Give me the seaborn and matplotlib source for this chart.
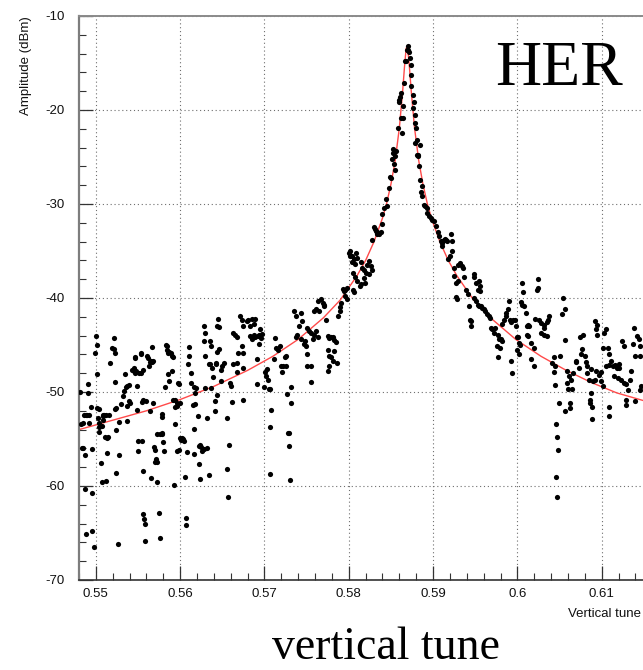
import matplotlib
matplotlib.use("Agg")
import matplotlib.pyplot as plt
import pandas as pd
import seaborn as sns
from matplotlib.ticker import MultipleLocator, FixedLocator, FixedFormatter

# ---- measured points (vertical tune, amplitude dBm), grouped by region ----
left_upper = [
    (0.5481, -50.0), (0.5491, -49.2), (0.5491, -50.1), (0.5500, -44.0), (0.5501, -45.0),
    (0.5499, -45.8), (0.5501, -48.1), (0.5519, -45.3), (0.5521, -45.4), (0.5522, -44.3),
    (0.5523, -45.9), (0.5517, -46.9), (0.5523, -48.9), (0.5532, -50.4), (0.5533, -49.9),
    (0.5536, -49.5), (0.5537, -49.4), (0.5539, -49.3), (0.5535, -48.1), (0.5543, -47.7),
    (0.5545, -47.8), (0.5547, -48.0), (0.5548, -47.8), (0.5545, -47.5), (0.5546, -46.3),
    (0.5547, -46.4), (0.5549, -49.4), (0.5553, -45.8), (0.5554, -46.0), (0.5556, -47.7),
    (0.5554, -48.0), (0.5551, -48.0), (0.5561, -46.2), (0.5562, -46.4), (0.5563, -47.2),
    (0.5564, -46.8), (0.5565, -46.7), (0.5566, -46.8), (0.5568, -46.7), (0.5567, -45.2),
    (0.5582, -49.5), (0.5583, -45.0), (0.5584, -45.1), (0.5584, -45.5), (0.5586, -45.9),
    (0.5587, -45.7), (0.5589, -45.8), (0.5590, -46.2), (0.5591, -46.3), (0.5590, -47.8),
    (0.5586, -48.1), (0.5587, -48.8), (0.5592, -50.8), (0.5598, -49.0), (0.5599, -49.2),
    (0.5611, -45.2), (0.5611, -46.2), (0.5609, -47.0), (0.5613, -48.0), (0.5613, -49.0),
    (0.5616, -49.5), (0.5618, -50.1), (0.5619, -49.6), (0.5628, -43.0), (0.5630, -43.7),
    (0.5628, -44.6), (0.5630, -46.2), (0.5635, -44.6), (0.5636, -45.1), (0.5635, -47.0),
    (0.5638, -47.5), (0.5639, -48.4), (0.5634, -47.0), (0.5645, -42.2), (0.5644, -43.0),
    (0.5646, -43.1), (0.5642, -46.9), (0.5643, -47.0), (0.5646, -45.4), (0.5644, -45.7),
    (0.5637, -49.6), (0.5630, -49.6), (0.5644, -50.3),
]
left_lower = [
    (0.5483, -56.0), (0.5485, -56.0), (0.5487, -56.7), (0.5482, -53.4), (0.5485, -53.3),
    (0.5486, -52.5), (0.5488, -52.5), (0.5490, -52.5), (0.5492, -52.4), (0.5494, -51.6),
    (0.5492, -53.3), (0.5495, -56.1), (0.5487, -60.3), (0.5496, -60.7), (0.5488, -65.1),
    (0.5496, -64.8), (0.5498, -66.5), (0.5501, -51.7), (0.5504, -51.8), (0.5503, -52.8),
    (0.5504, -53.3), (0.5504, -53.7), (0.5504, -54.3), (0.5508, -52.4), (0.5509, -52.6),
    (0.5510, -52.5), (0.5508, -53.0), (0.5507, -53.6), (0.5512, -52.4), (0.5516, -52.4),
    (0.5511, -54.8), (0.5514, -54.8), (0.5513, -54.9), (0.5513, -56.5), (0.5506, -57.6),
    (0.5507, -59.6), (0.5512, -59.5), (0.5523, -51.8), (0.5524, -51.7), (0.5527, -53.2),
    (0.5524, -54.0), (0.5527, -56.7), (0.5524, -58.6), (0.5530, -51.3), (0.5526, -66.2),
    (0.5537, -51.5), (0.5539, -51.0), (0.5540, -51.2), (0.5537, -53.1), (0.5549, -51.9),
    (0.5550, -55.2), (0.5555, -55.2), (0.5550, -56.3), (0.5556, -58.4), (0.5555, -51.1),
    (0.5556, -50.9), (0.5560, -51.0), (0.5564, -52.0), (0.5556, -63.0), (0.5557, -63.5),
    (0.5558, -64.0), (0.5558, -65.9), (0.5565, -59.2), (0.5569, -55.9), (0.5570, -56.2),
    (0.5571, -57.1), (0.5572, -57.4), (0.5570, -57.5), (0.5573, -54.5), (0.5576, -54.5),
    (0.5578, -54.5), (0.5580, -55.3), (0.5579, -54.4), (0.5581, -56.3), (0.5572, -59.6),
    (0.5575, -62.9), (0.5576, -65.5), (0.5578, -52.3), (0.5579, -52.7), (0.5568, -51.2),
    (0.5594, -53.4), (0.5594, -50.8), (0.5596, -51.2), (0.5596, -51.5), (0.5594, -51.6),
    (0.5593, -59.9), (0.5596, -56.3), (0.5599, -56.2), (0.5600, -54.9), (0.5601, -55.1),
    (0.5603, -55.0), (0.5605, -55.2), (0.5602, -54.9), (0.5600, -51.2), (0.5606, -59.0),
    (0.5607, -63.4), (0.5607, -64.2), (0.5608, -56.4), (0.5617, -56.6), (0.5615, -51.4),
    (0.5618, -51.3), (0.5616, -53.9), (0.5621, -52.6), (0.5622, -55.7), (0.5624, -55.6),
    (0.5625, -55.8), (0.5626, -56.3), (0.5628, -56.1), (0.5622, -57.7), (0.5623, -59.3),
    (0.5632, -52.8), (0.5632, -56.0), (0.5634, -58.8), (0.5641, -51.0), (0.5641, -52.0),
]
middle = [
    (0.5830, -32.5), (0.5831, -32.7), (0.5832, -32.9), (0.5833, -33.2), (0.5834, -33.0),
    (0.5836, -33.2), (0.5838, -33.0), (0.5840, -32.1), (0.5828, -33.8), (0.5800, -35.2),
    (0.5802, -35.0), (0.5802, -35.5), (0.5804, -35.5), (0.5806, -35.9), (0.5807, -36.4),
    (0.5810, -35.7), (0.5808, -35.2), (0.5814, -36.2), (0.5816, -36.8), (0.5818, -37.0),
    (0.5820, -37.3), (0.5822, -36.5), (0.5824, -36.1), (0.5826, -36.6), (0.5827, -37.0),
    (0.5824, -37.5), (0.5818, -37.9), (0.5819, -38.4), (0.5814, -38.5), (0.5810, -38.2),
    (0.5813, -38.7), (0.5804, -36.2), (0.5805, -37.3), (0.5807, -37.8), (0.5798, -38.9),
    (0.5796, -39.1), (0.5794, -39.3), (0.5793, -39.0), (0.5795, -39.8), (0.5798, -40.1),
    (0.5791, -40.5), (0.5789, -41.0), (0.5787, -41.9), (0.5790, -41.4), (0.5805, -39.1),
    (0.5806, -39.4), (0.5767, -40.1), (0.5769, -40.5), (0.5771, -40.9), (0.5771, -40.7),
    (0.5773, -42.3), (0.5763, -40.3), (0.5761, -41.2), (0.5759, -41.4), (0.5765, -41.4),
    (0.5751, -43.2), (0.5753, -43.5), (0.5755, -43.7), (0.5759, -43.9), (0.5761, -43.5),
    (0.5763, -44.2), (0.5757, -44.4), (0.5749, -45.1), (0.5748, -44.6), (0.5735, -41.4),
    (0.5737, -41.9), (0.5743, -41.6), (0.5745, -42.4), (0.5741, -43.0), (0.5739, -43.9),
    (0.5737, -44.2), (0.5743, -44.4), (0.5747, -44.9), (0.5750, -46.0), (0.5751, -47.2),
    (0.5755, -47.2), (0.5775, -44.0), (0.5777, -44.3), (0.5779, -44.2), (0.5781, -44.1),
    (0.5783, -44.5), (0.5785, -44.7), (0.5775, -45.5), (0.5777, -46.2), (0.5779, -46.3),
    (0.5781, -46.7), (0.5777, -47.2), (0.5775, -47.8), (0.5783, -45.6), (0.5786, -46.9),
    (0.5755, -48.9), (0.5731, -49.5), (0.5727, -50.2), (0.5712, -44.3), (0.5714, -45.3),
    (0.5716, -45.5), (0.5718, -45.1), (0.5720, -47.2), (0.5722, -47.2), (0.5726, -47.2),
    (0.5721, -47.9), (0.5724, -46.3), (0.5725, -46.2), (0.5711, -46.5), (0.5703, -47.6),
    (0.5701, -47.9), (0.5702, -48.3), (0.5704, -48.7), (0.5705, -49.7), (0.5707, -49.7),
    (0.5695, -43.3), (0.5693, -43.9), (0.5692, -44.0), (0.5689, -44.2), (0.5687, -43.9),
    (0.5685, -44.4), (0.5683, -44.0), (0.5683, -43.0), (0.5681, -42.3), (0.5679, -42.4),
    (0.5689, -42.2), (0.5685, -42.2), (0.5688, -42.8), (0.5696, -44.3), (0.5694, -44.9),
    (0.5697, -43.8), (0.5691, -46.5), (0.5663, -43.7), (0.5665, -43.9), (0.5667, -44.2),
    (0.5669, -45.8), (0.5671, -41.9), (0.5673, -42.3), (0.5675, -43.0), (0.5673, -45.1),
    (0.5675, -45.8), (0.5667, -46.9), (0.5663, -47.0), (0.5667, -47.9), (0.5675, -47.4),
    (0.5659, -49.0), (0.5660, -49.4), (0.5675, -50.8), (0.5691, -49.2), (0.5699, -49.5),
    (0.5650, -47.2), (0.5652, -46.9), (0.5649, -47.7), (0.5648, -48.8),
]
middle_lower = [
    (0.5661, -51.1), (0.5655, -52.8), (0.5658, -55.6), (0.5656, -58.2), (0.5657, -61.2),
    (0.5708, -51.9), (0.5706, -53.7), (0.5707, -58.7), (0.5731, -51.2), (0.5728, -54.4),
    (0.5729, -54.4), (0.5729, -55.7), (0.5730, -59.4),
]
peak = [
    (0.5870, -13.2), (0.5869, -13.6), (0.5870, -13.6), (0.5872, -13.8), (0.5868, -14.8),
    (0.5867, -14.8), (0.5873, -14.5), (0.5874, -15.2), (0.5874, -16.3), (0.5874, -17.5),
    (0.5876, -18.4), (0.5866, -17.1), (0.5861, -18.6), (0.5860, -18.9), (0.5862, -18.2),
    (0.5859, -19.1), (0.5864, -19.6), (0.5862, -20.9), (0.5864, -20.9), (0.5858, -21.9),
    (0.5863, -22.4), (0.5877, -19.1), (0.5876, -19.8), (0.5878, -20.5), (0.5878, -21.4),
    (0.5880, -21.9), (0.5879, -23.5), (0.5881, -23.2), (0.5884, -23.7), (0.5882, -24.8),
    (0.5881, -24.8), (0.5882, -24.9), (0.5883, -26.0), (0.5885, -27.4), (0.5887, -28.1),
    (0.5886, -28.7), (0.5887, -29.2), (0.5889, -30.1), (0.5890, -30.2), (0.5893, -30.4),
    (0.5893, -31.0), (0.5895, -31.3), (0.5897, -31.5), (0.5899, -31.7), (0.5852, -24.1),
    (0.5853, -24.6), (0.5851, -25.2), (0.5855, -24.9), (0.5856, -24.4), (0.5854, -25.7),
    (0.5855, -26.4), (0.5849, -27.1), (0.5850, -27.2), (0.5848, -28.3), (0.5844, -29.5),
    (0.5845, -30.2), (0.5842, -30.4), (0.5840, -31.1),
]
right = [
    (0.5901, -31.8), (0.5904, -32.3), (0.5906, -33.0), (0.5907, -33.4), (0.5909, -33.9),
    (0.5910, -34.2), (0.5911, -34.5), (0.5913, -33.8), (0.5914, -33.7), (0.5915, -33.8),
    (0.5917, -33.9), (0.5921, -33.2), (0.5923, -33.9), (0.5923, -35.0), (0.5918, -35.8),
    (0.5920, -35.5), (0.5925, -36.8), (0.5929, -36.5), (0.5932, -36.3), (0.5934, -36.6),
    (0.5935, -36.8), (0.5925, -37.7), (0.5927, -38.4), (0.5929, -38.2), (0.5937, -37.8),
    (0.5927, -39.9), (0.5928, -40.1), (0.5939, -39.1), (0.5941, -39.6), (0.5948, -37.4),
    (0.5949, -37.8), (0.5951, -38.4), (0.5955, -38.2), (0.5956, -38.7), (0.5953, -39.1),
    (0.5956, -39.3), (0.5943, -40.9), (0.5944, -42.3), (0.5945, -43.0), (0.5945, -42.4),
    (0.5949, -40.0), (0.5951, -40.3), (0.5953, -40.7), (0.5955, -40.9), (0.5957, -40.9),
    (0.5958, -41.1), (0.5960, -41.2), (0.5962, -41.4), (0.5964, -41.7), (0.5966, -41.9),
    (0.5968, -42.1), (0.5969, -43.2), (0.5970, -43.3), (0.5972, -43.7), (0.5974, -43.2),
    (0.5977, -43.9), (0.5978, -44.4), (0.5980, -44.4), (0.5982, -44.6), (0.5976, -45.1),
    (0.5979, -45.3), (0.5977, -46.3), (0.5982, -42.8), (0.5984, -42.3), (0.5986, -41.9),
    (0.5987, -41.6), (0.5989, -41.2), (0.5990, -40.3), (0.5991, -42.3), (0.5993, -42.6),
    (0.5995, -42.3), (0.5998, -43.0), (0.5999, -44.1), (0.6001, -44.2), (0.6002, -44.8),
    (0.6003, -45.0), (0.6000, -45.5), (0.6002, -46.0), (0.5993, -46.7), (0.5994, -48.0),
    (0.5997, -42.3), (0.6006, -38.4), (0.6007, -39.4), (0.6004, -40.4), (0.6006, -40.7),
    (0.6008, -40.9), (0.6010, -41.6), (0.6011, -43.0), (0.6013, -42.9), (0.6014, -43.0),
    (0.6011, -43.9), (0.6013, -44.0), (0.6016, -44.8), (0.6020, -45.3), (0.6021, -42.2),
    (0.6024, -38.0), (0.6025, -38.9), (0.6023, -39.1), (0.6026, -42.3), (0.6028, -42.7),
    (0.6031, -43.2), (0.6032, -42.9), (0.6035, -42.6), (0.6036, -42.3), (0.6037, -41.9),
    (0.6032, -43.9), (0.6035, -44.0), (0.6028, -43.7), (0.6016, -46.5), (0.6020, -47.2),
    (0.6043, -46.3), (0.6041, -46.9), (0.6045, -47.2), (0.6043, -47.9), (0.6045, -49.3),
    (0.6051, -46.2), (0.6054, -40.0), (0.6056, -41.2), (0.6053, -41.7), (0.6056, -44.5),
    (0.6059, -47.8), (0.6061, -48.3), (0.6064, -48.7), (0.6066, -48.0), (0.6059, -49.0),
    (0.6060, -49.7), (0.6065, -49.7), (0.6070, -46.7), (0.6073, -47.4), (0.6075, -46.0),
    (0.6077, -45.4), (0.6078, -43.9), (0.6074, -44.2), (0.6069, -46.8), (0.6080, -46.2),
    (0.6081, -46.8), (0.6083, -47.2), (0.6082, -48.0), (0.6087, -47.6), (0.6085, -48.7),
    (0.6090, -48.8), (0.6087, -50.1), (0.6086, -50.8), (0.6092, -48.7), (0.6093, -47.8),
    (0.6093, -43.3), (0.6092, -42.4), (0.6095, -42.9), (0.6094, -43.9), (0.6097, -48.2),
    (0.6099, -47.9), (0.6102, -45.3), (0.6103, -43.7), (0.6105, -43.3), (0.6107, -45.3),
    (0.6109, -46.0), (0.6111, -46.7), (0.6114, -47.2), (0.6116, -47.1), (0.6118, -47.4),
    (0.6120, -47.0), (0.6121, -47.4), (0.6123, -48.7), (0.6124, -44.6), (0.6126, -45.1),
    (0.6127, -49.0), (0.6129, -49.2), (0.6131, -49.8), (0.6129, -50.8), (0.6133, -48.7),
    (0.6135, -47.8), (0.6137, -44.9), (0.6138, -43.2), (0.6140, -46.2), (0.6142, -44.0),
    (0.6144, -44.4), (0.6145, -46.2), (0.6146, -45.1), (0.6147, -49.4), (0.6146, -49.8),
    (0.6109, -47.1), (0.6105, -47.2), (0.6115, -48.3), (0.6119, -48.5), (0.6099, -48.8),
    (0.6101, -49.4),
]
right_lower = [
    (0.6049, -51.2), (0.6057, -52.0), (0.6062, -51.2), (0.6063, -51.7), (0.6086, -51.2),
    (0.6088, -51.6), (0.6089, -52.9), (0.6109, -51.6), (0.6109, -52.6), (0.6129, -51.4),
    (0.6139, -51.0), (0.6046, -53.4), (0.6047, -54.8), (0.6048, -56.2), (0.6046, -59.0),
    (0.6047, -61.2),
]

# ---- fitted resonance curve ----
fit_tune = [0.5480, 0.5520, 0.5560, 0.5600, 0.5640, 0.5680, 0.5710, 0.5740, 0.5770,
            0.5790, 0.5810, 0.5820, 0.5830, 0.5840, 0.5845, 0.5850, 0.5855, 0.5860,
            0.5864, 0.5866, 0.5868, 0.5869, 0.5870, 0.5872, 0.5874, 0.5878, 0.5883,
            0.5888, 0.5893, 0.5898, 0.5908, 0.5918, 0.5928, 0.5948, 0.5968, 0.5998,
            0.6028, 0.6058, 0.6088, 0.6118, 0.6149]
fit_amp = [-54.0, -53.0, -52.0, -50.8, -49.4, -47.7, -46.2, -44.4, -42.1,
           -40.2, -37.6, -36.0, -34.0, -31.5, -29.9, -27.9, -25.4, -21.9,
           -17.9, -15.5, -13.5, -13.2, -13.5, -15.5, -17.9, -21.9, -25.4,
           -27.9, -29.9, -31.5, -34.0, -36.0, -37.6, -40.2, -42.1, -44.4,
           -46.2, -47.7, -49.0, -50.1, -50.9]

x_ticks = [0.55, 0.56, 0.57, 0.58, 0.59, 0.60, 0.61]
x_tick_labels = ["0.55", "0.56", "0.57", "0.58", "0.59", "0.6", "0.61"]
y_ticks = [-70, -60, -50, -40, -30, -20, -10]
y_tick_labels = ["-70", "-60", "-50", "-40", "-30", "-20", "-10"]

sns.set_theme(style="white")
plt.rcParams["font.family"] = ["Liberation Sans", "DejaVu Sans"]

W, H = 643, 670
fig = plt.figure(figsize=(W / 100, H / 100), dpi=100)
ax = fig.add_axes([79 / W, 1 - 580 / H, 564 / W, 564 / H])

pts = pd.DataFrame(left_upper + left_lower + middle + middle_lower + peak + right + right_lower,
                   columns=["tune", "amp"])
fit = pd.DataFrame({"tune": fit_tune, "amp": fit_amp})

sns.lineplot(data=fit, x="tune", y="amp", ax=ax, color="#ff4a4a", lw=1.0,
             estimator=None, zorder=2)
sns.scatterplot(data=pts, x="tune", y="amp", ax=ax, s=14, color="black",
                linewidth=0, zorder=3)

ax.set_xlim(0.5480, 0.6149)
ax.set_ylim(-70, -10)

ax.xaxis.set_major_locator(FixedLocator(x_ticks))
ax.xaxis.set_major_formatter(FixedFormatter(x_tick_labels))
ax.yaxis.set_major_locator(FixedLocator(y_ticks))
ax.yaxis.set_major_formatter(FixedFormatter(y_tick_labels))
ax.xaxis.set_minor_locator(MultipleLocator(0.002))
ax.yaxis.set_minor_locator(MultipleLocator(2))

ax.grid(True, which="major", linestyle=(0, (1, 2.5)), color="#6e6e6e", linewidth=0.8)
ax.set_axisbelow(True)

ax.tick_params(axis="both", which="both", direction="in", colors="#333333",
               labelcolor="#111111", labelsize=9.5)
ax.tick_params(which="major", length=10, width=0.9)
ax.tick_params(which="minor", length=5, width=0.8)
ax.tick_params(axis="y", which="both", pad=10.5, left=True, right=False)
ax.tick_params(axis="x", which="both", pad=6, bottom=True, top=False)

ax.spines["right"].set_visible(False)
ax.spines["left"].set_color("#7d7d7d")
ax.spines["left"].set_linewidth(1.6)
ax.spines["bottom"].set_color("#333333")
ax.spines["bottom"].set_linewidth(1.2)
ax.spines["top"].set_color("#8a8a8a")
ax.spines["top"].set_linewidth(1.4)

ax.set_ylabel("Amplitude (dBm)", loc="top", fontsize=9.5, color="#111111")
ax.yaxis.set_label_coords(-0.083, 1.0)
ax.set_xlabel("Vertical tune", loc="right", fontsize=9.5, color="#111111")
ax.xaxis.set_label_coords(0.9965, -0.05)

fig.text(495 / W, 1 - 85 / H, "HER", family=["Liberation Serif"], fontsize=46,
         ha="left", va="baseline", color="black")
fig.text(386 / W, 1 - 659 / H, "vertical tune", family=["Liberation Serif"], fontsize=33,
         ha="center", va="baseline", color="black")

fig.savefig("out.png", dpi=100)
